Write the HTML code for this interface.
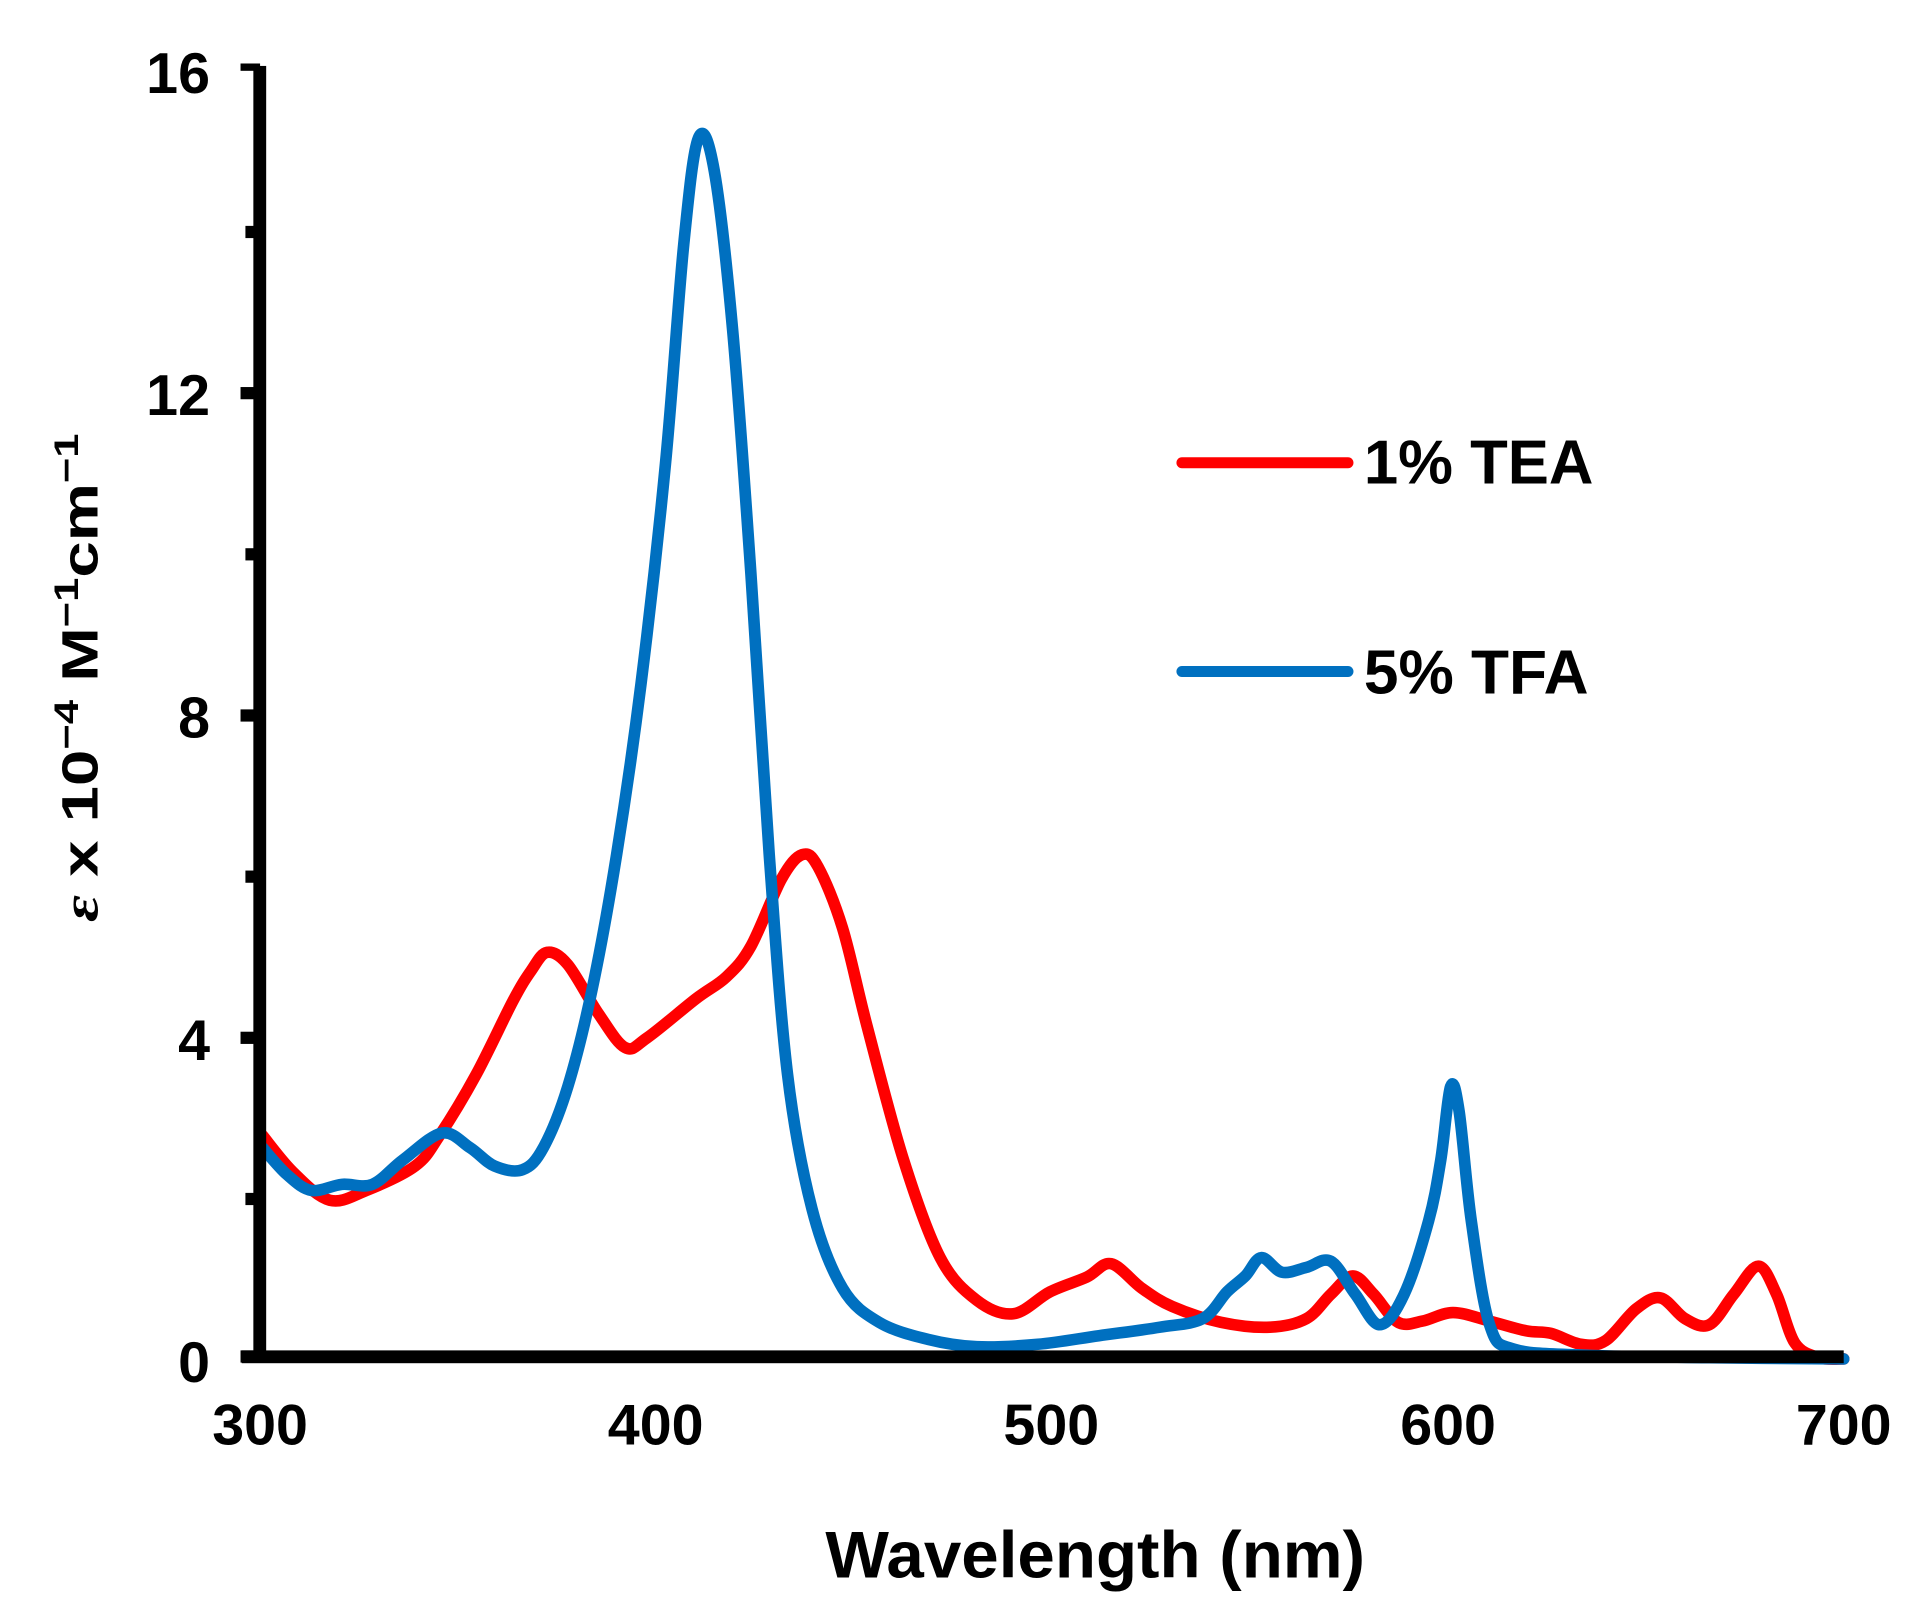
<!DOCTYPE html>
<html><head><meta charset="utf-8"><style>html,body{margin:0;padding:0;background:#fff}svg{display:block}</style></head>
<body>
<svg id="chart" width="1905" height="1619" viewBox="0 0 1560.2 1326" preserveAspectRatio="none" xmlns="http://www.w3.org/2000/svg" font-family="Liberation Sans, Arial, sans-serif" font-weight="bold">
<rect width="1560.2" height="1326" fill="#fff"/>
<polyline class="s" fill="none" stroke="#ff0000" stroke-width="9.5" stroke-linejoin="round" stroke-linecap="round" points="215,930 240,960 270,983 300,975 340,955 360,930 390,880 420,820 435,795 448,780 465,790 490,830 512,858 530,850 570,818 595,800 615,775 640,720 657,700 670,710 690,760 710,840 740,950 770,1030 800,1065 830,1076 860,1058 890,1046 910,1035 935,1055 960,1070 1000,1083 1040,1087 1070,1080 1090,1060 1108,1045 1125,1060 1145,1083 1165,1082 1190,1075 1220,1082 1250,1090 1270,1092 1295,1101 1315,1098 1340,1072 1360,1063 1380,1080 1400,1085 1420,1060 1440,1037 1455,1060 1470,1100 1490,1112 1510,1113"/>
<polyline class="s" fill="none" stroke="#0070c0" stroke-width="9.5" stroke-linejoin="round" stroke-linecap="round" points="215,940 235,962 255,975 280,970 305,970 330,950 362,928 385,940 405,955 428,958 445,940 465,890 485,810 505,700 525,560 545,380 560,200 572,113 585,140 600,270 615,470 630,700 645,880 665,990 690,1055 720,1083 760,1097 800,1103 850,1101 900,1094 950,1087 985,1080 1005,1058 1020,1045 1033,1030 1050,1042 1070,1038 1090,1033 1110,1060 1130,1085 1150,1060 1170,1000 1180,950 1188,890 1195,910 1205,1000 1220,1085 1240,1105 1300,1110 1400,1112 1510,1113"/>
<g fill="#000">
<rect x="207.5" y="54" width="10.5" height="1062"/>
<rect x="197" y="52" width="16" height="6"/>
<rect x="198" y="1106" width="1312" height="10.5"/>
<rect x="197" y="1106" width="11" height="10"/>
<rect x="197" y="845" width="11" height="10"/>
<rect x="197" y="581" width="11" height="10"/>
<rect x="197" y="317" width="11" height="10"/>
<rect x="201" y="977" width="7" height="10"/>
<rect x="201" y="713" width="7" height="10"/>
<rect x="201" y="449" width="7" height="10"/>
<rect x="201" y="185" width="7" height="10"/>
</g>
<g font-size="47" text-anchor="end" fill="#000">
<text x="172" y="1132">0</text>
<text x="172" y="868">4</text>
<text x="172" y="604">8</text>
<text x="172" y="340">12</text>
<text x="172" y="76">16</text>
</g>
<g font-size="47" text-anchor="middle" fill="#000">
<text x="213" y="1183">300</text>
<text x="537" y="1183">400</text>
<text x="861" y="1183">500</text>
<text x="1186" y="1183">600</text>
<text x="1510" y="1183">700</text>
</g>
<text x="897" y="1292" font-size="54" text-anchor="middle" textLength="442" lengthAdjust="spacingAndGlyphs">Wavelength (nm)</text>
<text transform="translate(80,555) rotate(-90)" font-size="42" text-anchor="middle" textLength="400" lengthAdjust="spacingAndGlyphs"><tspan font-style="italic" font-family="Liberation Serif, serif">ε</tspan> x 10<tspan font-size="28" dy="-16">−4</tspan><tspan dy="16"> M</tspan><tspan font-size="28" dy="-16">−1</tspan><tspan dy="16">cm</tspan><tspan font-size="28" dy="-16">−1</tspan></text>
<line x1="968" y1="379" x2="1104" y2="379" stroke="#ff0000" stroke-width="9" stroke-linecap="round"/>
<line x1="968" y1="550" x2="1104" y2="550" stroke="#0070c0" stroke-width="9" stroke-linecap="round"/>
<text x="1117" y="396" font-size="51" textLength="188" lengthAdjust="spacingAndGlyphs">1% TEA</text>
<text x="1117" y="568" font-size="51" textLength="184" lengthAdjust="spacingAndGlyphs">5% TFA</text>
</svg>
<script>
(function(){
var NS="http://www.w3.org/2000/svg";
var pls=document.querySelectorAll("polyline.s");
for(var k=0;k<pls.length;k++){
var pl=pls[k];
var pts=pl.getAttribute("points").trim().split(/\s+/).map(function(s){var a=s.split(",");return [+a[0],+a[1]];});
var d="M"+pts[0][0]+","+pts[0][1];
for(var i=0;i<pts.length-1;i++){
var p0=pts[i>0?i-1:i],p1=pts[i],p2=pts[i+1],p3=pts[i+2<pts.length?i+2:i+1];
var c1x=p1[0]+(p2[0]-p0[0])/6,c1y=p1[1]+(p2[1]-p0[1])/6;
var c2x=p2[0]-(p3[0]-p1[0])/6,c2y=p2[1]-(p3[1]-p1[1])/6;
d+=" C"+c1x.toFixed(2)+","+c1y.toFixed(2)+" "+c2x.toFixed(2)+","+c2y.toFixed(2)+" "+p2[0]+","+p2[1];
}
var p=document.createElementNS(NS,"path");
p.setAttribute("d",d);
["fill","stroke","stroke-width","stroke-linejoin","stroke-linecap"].forEach(function(a){p.setAttribute(a,pl.getAttribute(a));});
pl.parentNode.replaceChild(p,pl);
}
})();
</script>
</body></html>
